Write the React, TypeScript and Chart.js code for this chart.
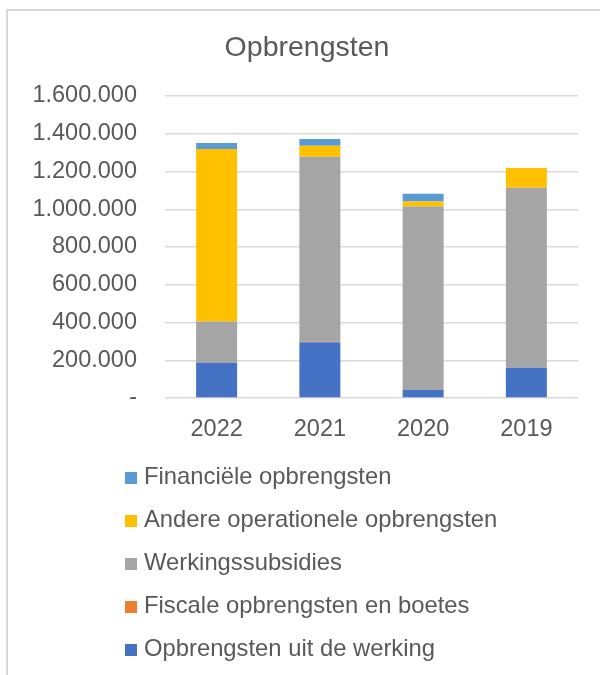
import React, { useEffect, useRef } from "react";
import { Chart, registerables } from "chart.js";

Chart.register(...registerables);

const categories = ["2022", "2021", "2020", "2019"];
const seriesNames = [
  "Opbrengsten uit de werking",
  "Fiscale opbrengsten en boetes",
  "Werkingssubsidies",
  "Andere operationele opbrengsten",
  "Financiële opbrengsten",
];
const opbrengstenWerking = [187000, 295000, 42000, 160000];
const fiscaleOpbrengsten = [0, 3000, 0, 0];
const werkingssubsidies = [218000, 980000, 972000, 954000];
const andereOperationele = [914000, 58000, 27000, 105000];
const financieleOpbrengsten = [32000, 36000, 41000, 0];
const seriesColors = ["#4472C4", "#ED7D31", "#A5A5A5", "#FFC000", "#5B9BD5"];
const chartTitle = "Opbrengsten";
const yMin = 0;
const yMax = 1600000;
const yStep = 200000;

const FONT = "'Liberation Sans', Arial, Helvetica, sans-serif";
const TEXT = "#595959";

const formatTick = (v: number) =>
  v === 0 ? "-" : Math.round(v).toString().replace(/\B(?=(\d{3})+(?!\d))/g, ".");

// Title centred over the whole chart box, and a vertical legend (one item per row,
// top series first) as in the reference
const titleAndLegend = {
  id: "titleAndLegend",
  afterDraw(chart: any) {
    const { ctx } = chart;
    ctx.save();
    ctx.font = `28.5px ${FONT}`;
    ctx.fillStyle = TEXT;
    ctx.textAlign = "center";
    ctx.textBaseline = "middle";
    ctx.fillText(chartTitle, 307, 48);

    const left = 125;
    const firstY = 477;
    const gap = 43;
    const box = 12;
    const items = chart.data.datasets
      .map((d: any) => ({ text: d.label, color: d.backgroundColor }))
      .reverse();
    ctx.font = `23.8px ${FONT}`;
    ctx.textAlign = "left";
    items.forEach((it: any, i: number) => {
      const y = firstY + i * gap;
      ctx.fillStyle = it.color;
      ctx.fillRect(left, y - box / 2 + 1, box, box);
      ctx.fillStyle = TEXT;
      ctx.fillText(it.text, left + box + 7, y);
    });
    ctx.restore();
  },
};

export default function App() {
  const ref = useRef<HTMLCanvasElement | null>(null);

  useEffect(() => {
    if (!ref.current) return;
    const values = [
      opbrengstenWerking,
      fiscaleOpbrengsten,
      werkingssubsidies,
      andereOperationele,
      financieleOpbrengsten,
    ];
    const chart = new Chart(ref.current, {
      type: "bar",
      data: {
        labels: categories,
        datasets: values.map((data, i) => ({
          label: seriesNames[i],
          data,
          backgroundColor: seriesColors[i],
          borderWidth: 0,
          categoryPercentage: 1,
          barPercentage: 0.397,
        })),
      },
      options: {
        responsive: false,
        animation: false,
        devicePixelRatio: 1,
        layout: { padding: { left: 14, right: 22, top: 96, bottom: 230 } },
        plugins: {
          legend: { display: false },
          tooltip: { enabled: false },
          title: { display: false },
        },
        scales: {
          x: {
            stacked: true,
            grid: { display: false },
            border: { display: false },
            ticks: { color: TEXT, font: { family: FONT, size: 23.5 }, padding: 9, maxRotation: 0 },
            afterFit: (s: any) => {
              s.height = 47;
            },
          },
          y: {
            stacked: true,
            min: yMin,
            max: yMax,
            grid: { color: "#D9D9D9", lineWidth: 1.5, drawTicks: false },
            border: { display: false },
            ticks: {
              stepSize: yStep,
              color: TEXT,
              font: { family: FONT, size: 23.5 },
              padding: 28,
              callback: (v: any) => formatTick(Number(v)),
            },
            afterFit: (s: any) => {
              s.width = 151;
            },
          },
        },
      },
      plugins: [titleAndLegend],
    });
    return () => chart.destroy();
  }, []);

  return (
    <div
      style={{
        position: "fixed",
        left: 0,
        top: 0,
        width: 600,
        height: 675,
        overflow: "hidden",
        background: "#fff",
      }}
    >
      <div
        style={{
          position: "absolute",
          left: 6,
          top: 9,
          width: 700,
          height: 700,
          borderLeft: "2px solid #D9D9D9",
          borderTop: "2px solid #D9D9D9",
        }}
      />
      <canvas
        ref={ref}
        width={600}
        height={675}
        style={{ position: "absolute", left: 0, top: 0, width: 600, height: 675 }}
      />
    </div>
  );
}
